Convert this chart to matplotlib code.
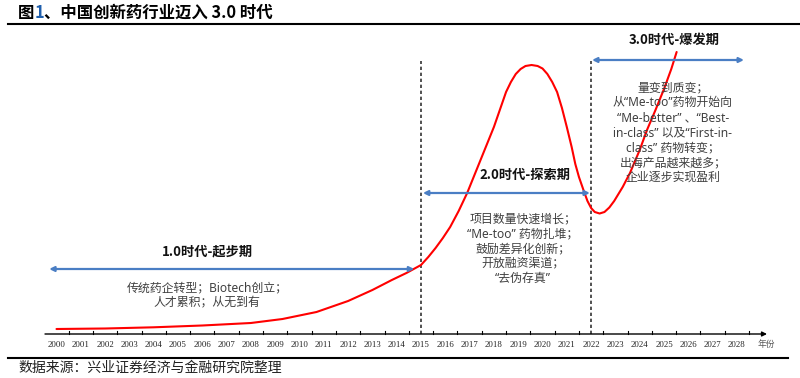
import matplotlib
matplotlib.use("Agg")
import matplotlib.pyplot as plt

plt.rcParams['font.family'] = ['Noto Sans CJK SC', 'DejaVu Sans']

# ---- data ----
years = list(range(2000, 2029))
tick_labels = [str(y) for y in years]
tick_marks = [y + 0.5 for y in range(2000, 2029)]

curve_x = [2000.0, 2002.0, 2004.0, 2006.0, 2008.0, 2009.3, 2010.7, 2012.0, 2013.0,
           2013.8, 2014.4, 2015.0, 2015.3, 2015.6, 2015.9, 2016.2, 2016.55, 2016.9,
           2017.4, 2017.7, 2018.0, 2018.3, 2018.5, 2018.7, 2018.9, 2019.1, 2019.3,
           2019.55, 2019.8, 2020.0, 2020.2, 2020.4, 2020.6, 2020.8, 2021.0, 2021.2,
           2021.35, 2021.5, 2021.7, 2021.85, 2022.0, 2022.15, 2022.35, 2022.55,
           2022.75, 2022.95, 2023.3, 2023.6, 2024.0, 2024.3, 2024.65, 2025.0, 2025.3,
           2025.52]
curve_y = [5, 5.5, 6.7, 8.5, 11, 15, 22, 33, 44,
           54, 61, 69, 77, 86, 96, 107, 123, 141,
           171, 189, 207, 228, 242, 252, 260, 265, 268,
           269, 268, 265.5, 260, 252, 242, 226, 207, 187,
           170, 157, 143, 133, 126, 122, 120.5, 122,
           126.5, 133, 147, 161, 184, 204, 224, 245, 265,
           282]

eras = ["1.0时代-起步期", "2.0时代-探索期", "3.0时代-爆发期"]
era_spans = [(1999.70, 2014.72), (2015.08, 2021.95), (2022.04, 2028.29)]
era_arrow_y = [65, 141, 274]
era_title_pos = [(2006.23, 83), (2019.26, 159), (2025.43, 294)]
era_texts = [
    ["传统药企转型；Biotech创立；", "人才累积；从无到有"],
    ["项目数量快速增长；", "“Me-too” 药物扎堆；", "鼓励差异化创新；", "开放融资渠道；", "“去伪存真”"],
    ["量变到质变；", "从“Me-too”药物开始向", "“Me-better” 、“Best-", "in-class” 以及“First-in-",
     "class” 药物转变；", "出海产品越来越多；", "企业逐步实现盈利"],
]
era_text_pos = [(2006.2, 53), (2019.2, 122), (2025.37, 253)]
boundaries = [2015, 2022]

# ---- figure ----
W, H = 800, 378
fig = plt.figure(figsize=(W / 100, H / 100), dpi=100)
ax = fig.add_axes([0, 0, 1, 1])
x0 = 2000 - 56.5 / 24.3
x1 = x0 + W / 24.3
ax.set_xlim(x0, x1)
ax.set_ylim(334 - H, 334)
ax.axis('off')

def px2yr(px):
    return x0 + px / 24.3

# x axis line with arrow
ax.annotate("", xy=(px2yr(767), 0), xytext=(px2yr(45), 0),
            arrowprops=dict(arrowstyle="-|>", color="black", lw=1.0, mutation_scale=7,
                            shrinkA=0, shrinkB=0))
for t in tick_marks:
    ax.plot([t, t], [0, 3], color="black", lw=0.8)
for y, lab in zip(years, tick_labels):
    ax.text(y, -11, lab, ha="center", va="center", fontsize=6.3,
            family="Liberation Serif", color="#222222")
ax.text(px2yr(766), -11, "年份", ha="center", va="center", fontsize=6.3, color="#555555")

# dashed boundaries
for b in boundaries:
    ax.plot([b, b], [0, 273], color="#333333", lw=1.2, ls=(0, (2, 1.6)))

# curve
ax.plot(curve_x, curve_y, color="#FF0000", lw=1.5, solid_capstyle="round",
        solid_joinstyle="round")

# era arrows and text
for name, span, ay, tpos, lines, bpos in zip(eras, era_spans, era_arrow_y,
                                            era_title_pos, era_texts, era_text_pos):
    ax.annotate("", xy=(span[1], ay), xytext=(span[0], ay),
                arrowprops=dict(arrowstyle="<|-|>", color="#4A7EC4", lw=1.6,
                                mutation_scale=7, shrinkA=0, shrinkB=0))
    ax.text(tpos[0], tpos[1], name, ha="center", va="center", fontsize=9.5,
            fontweight="bold", color="#111111")
    ax.text(bpos[0], bpos[1], "\n".join(lines), ha="center", va="top", fontsize=8.6,
            color="#404040", linespacing=1.2, family=["Noto Sans", "Noto Sans CJK SC"])

# title with coloured "1"
fig.canvas.draw()
r = fig.canvas.get_renderer()
parts = [("图", "black"), ("1", "#1F5FAD"), ("、中国创新药行业迈入 3.0 时代", "black")]
xpos = 18
for txt, col in parts:
    t = fig.text(xpos / W, 1 - 13 / H, txt, ha="left", va="center", fontsize=11.8,
                 fontweight="bold", color=col)
    bb = t.get_window_extent(renderer=r)
    xpos = bb.x1

fig.add_artist(plt.Line2D([8 / W, 1.0], [1 - 23.5 / H, 1 - 23.5 / H], color="black", lw=1.5))
fig.add_artist(plt.Line2D([8 / W, 788 / W], [1 - 357.5 / H, 1 - 357.5 / H], color="black", lw=1.5))
fig.text(18 / W, 1 - 368 / H, "数据来源：兴业证券经济与金融研究院整理", ha="left", va="center",
         fontsize=10, color="#222222")

fig.savefig("out.png", dpi=100)
